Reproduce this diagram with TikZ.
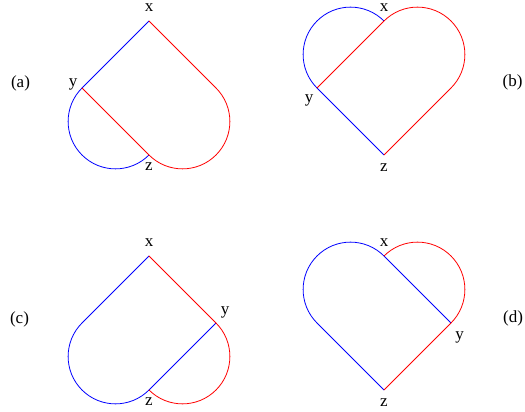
\documentclass[tikz,border=0pt]{standalone}
\usepackage{fontspec}
\setmainfont{Liberation Serif}
\begin{document}
\begin{tikzpicture}[x=1pt,y=1pt,
  bl/.style={draw=blue,line width=0.8pt,line join=round},
  rl/.style={draw=red,line width=0.8pt,line join=round},
  lab/.style={inner sep=0pt,font=\fontsize{17}{20}\selectfont}]
\useasboundingbox (0,0) rectangle (525,412);
\def\rr{47.376pt}
% (a)
\begin{scope}[shift={(149,324)}]
  \coordinate (ax) at (0,67); \coordinate (ay) at (-67,0);
  \coordinate (az) at (0,-67); \coordinate (ar) at (67,0);
  \draw[bl] (ax) -- (ay) arc[start angle=135,end angle=315,radius=\rr];
  \draw[rl] (ax) -- (ar) arc[start angle=45,end angle=-135,radius=\rr] -- (ay);
  \node[lab] (axl) at (0,80.5) {x};
  \node[lab] (ayl) at (-76,3.5) {y};
  \node[lab] (azl) at (0,-79) {z};
\end{scope}
% (b)
\begin{scope}[shift={(384,324)}]
  \coordinate (bx) at (0,67); \coordinate (by) at (-67,0);
  \coordinate (bz) at (0,-67); \coordinate (br) at (67,0);
  \draw[bl] (bz) -- (by) arc[start angle=225,end angle=45,radius=\rr];
  \draw[rl] (by) -- (bx) arc[start angle=135,end angle=-45,radius=\rr] -- (bz);
  \node[lab] (bxl) at (0,80.5) {x};
  \node[lab] (byl) at (-75,-12.5) {y};
  \node[lab] (bzl) at (0,-79.5) {z};
\end{scope}
% (c)
\begin{scope}[shift={(149,89)}]
  \coordinate (cx) at (0,67); \coordinate (cl) at (-67,0);
  \coordinate (cz) at (0,-67); \coordinate (cy) at (67,0);
  \draw[bl] (cx) -- (cl) arc[start angle=135,end angle=315,radius=\rr] -- (cy);
  \draw[rl] (cx) -- (cy) arc[start angle=45,end angle=-135,radius=\rr];
  \node[lab] (cxl) at (0,80.5) {x};
  \node[lab] (cyl) at (76,10.5) {y};
  \node[lab] (czl) at (0,-79) {z};
\end{scope}
% (d)
\begin{scope}[shift={(384,89)}]
  \coordinate (dx) at (0,67); \coordinate (dl) at (-67,0);
  \coordinate (dz) at (0,-67); \coordinate (dy) at (67,0);
  \draw[bl] (dz) -- (dl) arc[start angle=225,end angle=45,radius=\rr] -- (dy);
  \draw[rl] (dx) arc[start angle=135,end angle=-45,radius=\rr] -- (dz);
  \node[lab] (dxl) at (0,80.5) {x};
  \node[lab] (dyl) at (75.5,-14) {y};
  \node[lab] (dzl) at (0,-79.5) {z};
\end{scope}
\node[lab] (pa) at (20.5,328.5) {(a)};
\node[lab] (pb) at (512.5,329.5) {(b)};
\node[lab] (pc) at (19.5,93) {(c)};
\node[lab] (pd) at (513,93.5) {(d)};
\end{tikzpicture}
\end{document}
